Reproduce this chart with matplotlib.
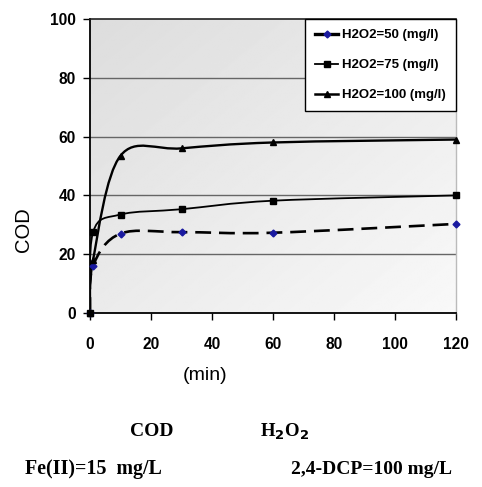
import numpy as np
import matplotlib
matplotlib.use("Agg")
import matplotlib.pyplot as plt
from matplotlib.path import Path
from matplotlib.patches import PathPatch
from matplotlib.lines import Line2D
from matplotlib.transforms import IdentityTransform

time_min = [0, 1, 10, 30, 60, 120]
cod_h50 = [0, 16, 27, 27.5, 27.3, 30.3]
cod_h75 = [0, 27.5, 33.5, 35.3, 38.2, 40]
cod_h100 = [0, 18, 53.5, 56, 58, 59]
labels = ["H2O2=50 (mg/l)", "H2O2=75 (mg/l)", "H2O2=100 (mg/l)"]
x_ticks = [0, 20, 40, 60, 80, 100, 120]
y_ticks = [0, 20, 40, 60, 80, 100]

SANS = "Liberation Sans"

W, H = 482, 487
fig = plt.figure(figsize=(W / 100, H / 100), dpi=100)
ax = fig.add_axes([90 / W, 1 - 313 / H, 366 / W, 294 / H])
ax.set_xlim(0, 120)
ax.set_ylim(0, 100)

# gradient background (darker top-left, lighter bottom-right)
grad = np.linspace(0, 1, 256)
gx, gy = np.meshgrid(grad, grad)
g = 0.5 * gx + 0.5 * gy
img = 0.865 + 0.11 * g
ax.imshow(img, cmap="gray", vmin=0, vmax=1, extent=[0, 1, 0, 1],
          transform=ax.transAxes, aspect="auto", zorder=0, origin="upper")

for yv in y_ticks[1:-1]:
    ax.axhline(yv, color="#666666", lw=1.0, zorder=1)

ax.spines["top"].set_color("#222222")
ax.spines["top"].set_linewidth(1.2)
ax.spines["right"].set_color("#bbbbbb")
ax.spines["right"].set_linewidth(1.0)
ax.spines["left"].set_linewidth(1.3)
ax.spines["bottom"].set_linewidth(1.3)

fig.canvas.draw()


def smooth_patch(xs, ys, **kw):
    pts = ax.transData.transform(np.column_stack([xs, ys]))
    n = len(pts)
    verts = [pts[0]]
    codes = [Path.MOVETO]
    for i in range(n - 1):
        p0 = pts[max(i - 1, 0)]
        p1 = pts[i]
        p2 = pts[i + 1]
        p3 = pts[min(i + 2, n - 1)]
        c1 = p1 + (p2 - p0) / 6.0
        c2 = p2 - (p3 - p1) / 6.0
        verts += [c1, c2, p2]
        codes += [Path.CURVE4] * 3
    path = Path(verts, codes)
    patch = PathPatch(path, fill=False, transform=IdentityTransform(), **kw)
    ax.add_patch(patch)


smooth_patch(time_min, cod_h50, edgecolor="black", lw=1.9, linestyle=(0, (6, 3)), zorder=3)
smooth_patch(time_min, cod_h75, edgecolor="black", lw=1.3, zorder=3)
smooth_patch(time_min, cod_h100, edgecolor="black", lw=1.7, zorder=3)

ax.plot(time_min, cod_h50, ls="none", marker="D", ms=3.5, color="#1a1aa0", zorder=4, clip_on=False)
ax.plot(time_min, cod_h75, ls="none", marker="s", ms=5, color="black", zorder=4, clip_on=False)
ax.plot(time_min, cod_h100, ls="none", marker="^", ms=5, color="black", zorder=4, clip_on=False)

handles = [
    Line2D([], [], color="black", lw=2.4, marker="D", ms=3.5, mfc="#1a1aa0", mec="#1a1aa0"),
    Line2D([], [], color="black", lw=1.3, marker="s", ms=4),
    Line2D([], [], color="black", lw=1.8, marker="^", ms=4),
]
leg = ax.legend(handles, labels, loc="upper right", bbox_to_anchor=(1.0, 1.0),
                frameon=True, fancybox=False, framealpha=1, edgecolor="black",
                prop={"family": SANS, "weight": "bold", "size": 9.5},
                handlelength=1.8, handletextpad=0.3, labelspacing=1.35,
                borderpad=0.75, borderaxespad=0)
leg.get_frame().set_linewidth(1.0)
leg.set_zorder(5)

ax.set_xticks(x_ticks)
ax.set_yticks(y_ticks)
ax.tick_params(axis="x", direction="out", length=5, width=1, pad=12)
ax.tick_params(axis="y", direction="out", length=5, width=1, pad=5)
for lab in ax.get_xticklabels() + ax.get_yticklabels():
    lab.set_fontfamily(SANS)
    lab.set_fontweight("bold")
    lab.set_fontsize(11.2)

fig.text(23 / W, 1 - 230 / H, "COD", rotation=90, ha="center", va="center",
         fontsize=14.5, family=SANS)
fig.text(205 / W, 1 - 376 / H, "(min)", ha="center", va="center",
         fontsize=14, family=SANS)

fig.text(152 / W, 1 - 431 / H, "COD", ha="center", va="center",
         fontsize=14, family="Liberation Serif", weight="bold")
fig.text(285 / W, 1 - 432 / H, r"H$_\mathbf{2}$O$_\mathbf{2}$", ha="center", va="center",
         fontsize=13.5, family="Liberation Serif", weight="bold")
fig.text(25 / W, 1 - 469 / H, "Fe(II)=15  mg/L", ha="left", va="center",
         fontsize=14.4, family="Liberation Serif", weight="bold")
fig.text(452 / W, 1 - 469 / H, "2,4-DCP=100 mg/L", ha="right", va="center",
         fontsize=14, family="Liberation Serif", weight="bold")

fig.savefig("out.png", dpi=100)
